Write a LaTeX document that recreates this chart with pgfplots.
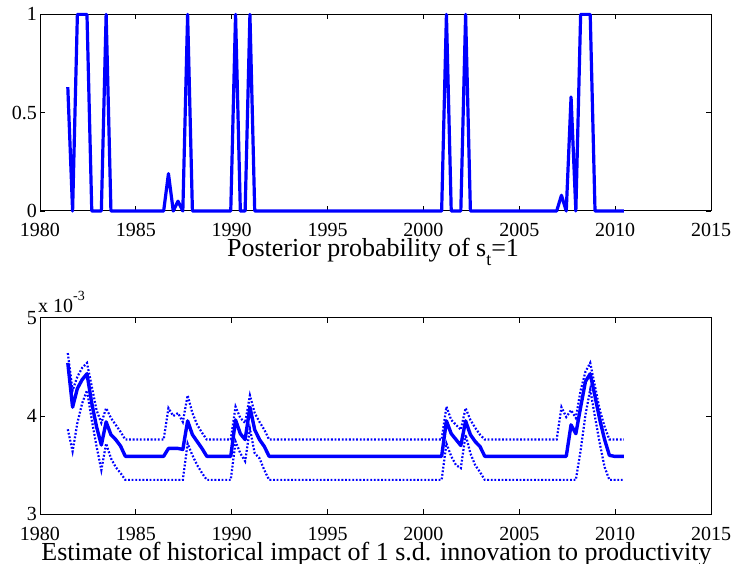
\documentclass[border=0pt]{standalone}
\usepackage{fontspec}
\setmainfont{Liberation Serif}
\usepackage{pgfplots}
\pgfplotsset{compat=1.18}
\usepackage{pgfplotstable}

\pgfplotstableread{
x p mid up lo
1981.45 0.63 4.54 4.64 3.865
1981.70 0 4.09 4.26 3.64
1981.95 1 4.28 4.40 3.93
1982.20 1 4.37 4.49 4.13
1982.45 1 4.43 4.54 4.26
1982.70 0 4.13 4.30 3.96
1982.95 0 3.89 4.06 3.69
1983.20 0 3.705 3.93 3.45
1983.45 1 3.94 4.08 3.72
1983.70 0 3.81 3.98 3.57
1983.95 0 3.76 3.91 3.48
1984.20 0 3.695 3.84 3.42
1984.45 0 3.59 3.76 3.35
1984.70 0 3.59 3.76 3.35
1984.95 0 3.59 3.76 3.35
1985.20 0 3.59 3.76 3.35
1985.45 0 3.59 3.76 3.35
1985.70 0 3.59 3.76 3.35
1985.95 0 3.59 3.76 3.35
1986.20 0 3.59 3.76 3.35
1986.45 0 3.59 3.76 3.35
1986.70 0.19 3.67 4.08 3.35
1986.95 0 3.67 4.00 3.35
1987.20 0.05 3.67 4.03 3.35
1987.45 0 3.66 3.94 3.35
1987.70 1 3.95 4.21 3.72
1987.95 0 3.81 4.03 3.60
1988.20 0 3.74 3.91 3.50
1988.45 0 3.67 3.83 3.42
1988.70 0 3.59 3.76 3.35
1988.95 0 3.59 3.76 3.35
1989.20 0 3.59 3.76 3.35
1989.45 0 3.59 3.76 3.35
1989.70 0 3.59 3.76 3.35
1989.95 0 3.59 3.76 3.35
1990.20 1 3.96 4.095 3.74
1990.45 0 3.82 3.98 3.62
1990.70 0 3.76 3.93 3.54
1990.95 1 4.09 4.21 3.87
1991.20 0 3.86 4.03 3.62
1991.45 0 3.76 3.94 3.57
1991.70 0 3.69 3.86 3.45
1991.95 0 3.59 3.76 3.35
1992.20 0 3.59 3.76 3.35
1992.45 0 3.59 3.76 3.35
1992.70 0 3.59 3.76 3.35
1992.95 0 3.59 3.76 3.35
1993.20 0 3.59 3.76 3.35
1993.45 0 3.59 3.76 3.35
1993.70 0 3.59 3.76 3.35
1993.95 0 3.59 3.76 3.35
1994.20 0 3.59 3.76 3.35
1994.45 0 3.59 3.76 3.35
1994.70 0 3.59 3.76 3.35
1994.95 0 3.59 3.76 3.35
1995.20 0 3.59 3.76 3.35
1995.45 0 3.59 3.76 3.35
1995.70 0 3.59 3.76 3.35
1995.95 0 3.59 3.76 3.35
1996.20 0 3.59 3.76 3.35
1996.45 0 3.59 3.76 3.35
1996.70 0 3.59 3.76 3.35
1996.95 0 3.59 3.76 3.35
1997.20 0 3.59 3.76 3.35
1997.45 0 3.59 3.76 3.35
1997.70 0 3.59 3.76 3.35
1997.95 0 3.59 3.76 3.35
1998.20 0 3.59 3.76 3.35
1998.45 0 3.59 3.76 3.35
1998.70 0 3.59 3.76 3.35
1998.95 0 3.59 3.76 3.35
1999.20 0 3.59 3.76 3.35
1999.45 0 3.59 3.76 3.35
1999.70 0 3.59 3.76 3.35
1999.95 0 3.59 3.76 3.35
2000.20 0 3.59 3.76 3.35
2000.45 0 3.59 3.76 3.35
2000.70 0 3.59 3.76 3.35
2000.95 0 3.59 3.76 3.35
2001.20 1 3.95 4.095 3.72
2001.45 0 3.82 3.96 3.59
2001.70 0 3.76 3.91 3.50
2001.95 0 3.70 3.86 3.47
2002.20 1 3.95 4.08 3.81
2002.45 0 3.81 3.96 3.62
2002.70 0 3.74 3.88 3.50
2002.95 0 3.69 3.81 3.43
2003.20 0 3.59 3.76 3.35
2003.45 0 3.59 3.76 3.35
2003.70 0 3.59 3.76 3.35
2003.95 0 3.59 3.76 3.35
2004.20 0 3.59 3.76 3.35
2004.45 0 3.59 3.76 3.35
2004.70 0 3.59 3.76 3.35
2004.95 0 3.59 3.76 3.35
2005.20 0 3.59 3.76 3.35
2005.45 0 3.59 3.76 3.35
2005.70 0 3.59 3.76 3.35
2005.95 0 3.59 3.76 3.35
2006.20 0 3.59 3.76 3.35
2006.45 0 3.59 3.76 3.35
2006.70 0 3.59 3.76 3.35
2006.95 0 3.59 3.76 3.35
2007.20 0.08 3.59 4.09 3.35
2007.45 0 3.59 3.99 3.35
2007.70 0.58 3.91 4.06 3.35
2007.95 0 3.82 3.98 3.35
2008.20 1 4.09 4.26 3.65
2008.45 1 4.35 4.45 4.01
2008.70 1 4.43 4.54 4.27
2008.95 0 4.20 4.30 3.99
2009.20 0 3.96 4.06 3.72
2009.45 0 3.76 3.89 3.48
2009.70 0 3.60 3.76 3.35
2009.95 0 3.59 3.76 3.35
2010.20 0 3.59 3.76 3.35
2010.45 0 3.59 3.76 3.35
}\data

\pgfplotsset{
  mystyle/.style={
    scale only axis, width=671pt, height=196.6pt,
    xmin=1980, xmax=2015,
    xtick={1980,1985,1990,1995,2000,2005,2010,2015},
    xticklabels={1980,1985,1990,1995,2000,2005,2010,2015},
    tick align=inside, major tick length=5pt,
    axis line style={line width=1pt, black},
    every tick/.style={black, line width=0.9pt},
    tick label style={font=\fontsize{20}{20}\selectfont, inner sep=1pt},
    /pgf/number format/assume math mode=true,
    xticklabel style={anchor=base, yshift=-26pt},
    yticklabel style={xshift=-2pt},
    clip=false,
  }
}

\begin{document}
\begin{tikzpicture}[x=1pt,y=1pt]
\useasboundingbox (0,0) rectangle (733,563);
\begin{axis}[mystyle, at={(40pt,352pt)}, anchor=south west,
  ymin=0, ymax=1, ytick={0,0.5,1}, yticklabels={0,0.5,1}]
\addplot[blue, line width=3.2pt, line join=round] table[x=x,y=p]{\data};
\end{axis}
\begin{axis}[mystyle, at={(40pt,48.7pt)}, anchor=south west,
  ymin=3, ymax=5, ytick={3,4,5}, yticklabels={3,4,5}]
\addplot[blue, line width=3.4pt, line join=round] table[x=x,y=mid]{\data};
\addplot[blue, line width=2.2pt, dash pattern=on 1.8pt off 1.8pt] table[x=x,y=up]{\data};
\addplot[blue, line width=2.2pt, dash pattern=on 1.8pt off 1.8pt] table[x=x,y=lo]{\data};
\end{axis}
\node[anchor=base, inner sep=0pt, font=\fontsize{26}{26}\selectfont] at (373,306.3)
  {Posterior probability of s\raisebox{-9pt}{\fontsize{18}{18}\selectfont t}=1};
\node[anchor=base west, inner sep=0pt, font=\fontsize{20}{20}\selectfont] at (38,251)
  {x 10\raisebox{12pt}{\fontsize{14}{14}\selectfont -3}};
\node[anchor=base, inner sep=0pt, font=\fontsize{26}{26}\selectfont] at (376.5,2.5)
  {Estimate of historical impact of 1 s.d. innovation to productivity};
\end{tikzpicture}
\end{document}
